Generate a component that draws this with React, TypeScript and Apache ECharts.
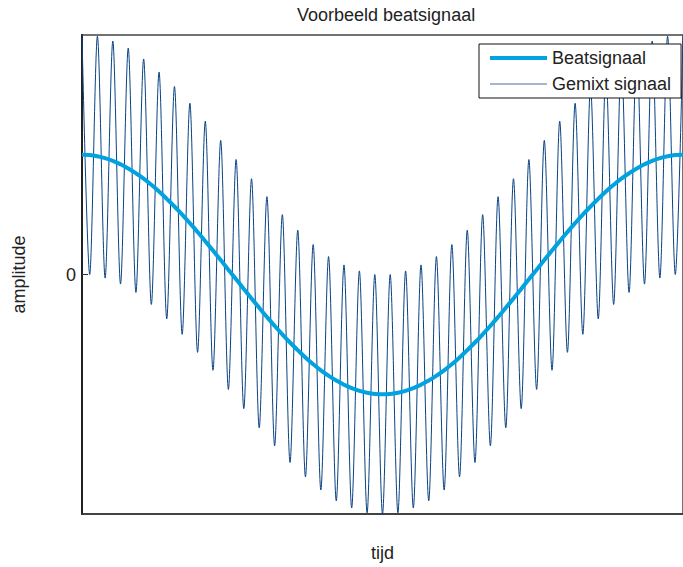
import React, { useEffect, useRef } from "react";
import * as echarts from "echarts";

// Envelope (beat) sampled once per half-period of the mixed signal
const beatValues = [
  1.0, 0.997, 0.987, 0.971, 0.949, 0.92, 0.885, 0.845, 0.8, 0.749, 0.693, 0.632, 0.568, 0.5,
  0.429, 0.355, 0.278, 0.2, 0.121, 0.04, -0.04, -0.121, -0.2, -0.278, -0.355, -0.429, -0.5,
  -0.568, -0.632, -0.693, -0.749, -0.8, -0.845, -0.885, -0.92, -0.949, -0.971, -0.987,
  -0.997, -1.0, -0.997, -0.987, -0.971, -0.949, -0.92, -0.885, -0.845, -0.8, -0.749, -0.693,
  -0.632, -0.568, -0.5, -0.429, -0.355, -0.278, -0.2, -0.121, -0.04, 0.04, 0.121, 0.2, 0.278,
  0.355, 0.429, 0.5, 0.568, 0.632, 0.693, 0.749, 0.8, 0.845, 0.885, 0.92, 0.949, 0.971,
  0.987, 0.997, 1.0,
];

// Successive peaks and troughs of the mixed signal (one value per half-period)
const mixedExtrema = [
  2.0, -0.0, 1.99, -0.03, 1.95, -0.08, 1.89, -0.15, 1.8, -0.25, 1.69, -0.37, 1.57, -0.5,
  1.43, -0.65, 1.28, -0.8, 1.12, -0.96, 0.96, -1.12, 0.8, -1.28, 0.65, -1.43, 0.5, -1.57,
  0.37, -1.69, 0.25, -1.8, 0.15, -1.89, 0.08, -1.95, 0.03, -1.99, 0.0, -2.0, 0.0, -1.99,
  0.03, -1.95, 0.08, -1.89, 0.15, -1.8, 0.25, -1.69, 0.37, -1.57, 0.5, -1.43, 0.65, -1.28,
  0.8, -1.12, 0.96, -0.96, 1.12, -0.8, 1.28, -0.65, 1.43, -0.5, 1.57, -0.37, 1.69, -0.25,
  1.8, -0.15, 1.89, -0.08, 1.95, -0.03, 1.99, -0.0, 2.0,
];

const yTickLabels = [0];
const seriesNames = ["Beatsignaal", "Gemixt signaal"];

const FONT = "'Liberation Sans', Arial, Helvetica, sans-serif";
const BEAT_COLOR = "#00a3e0";
const MIXED_COLOR = "#0a4282";

export default function App() {
  const ref = useRef<HTMLDivElement>(null);

  useEffect(() => {
    if (!ref.current) return;
    const chart = echarts.init(ref.current, undefined, { renderer: "svg" });

    const beatData = beatValues.map((v, i) => [i, v]);
    const mixedData = mixedExtrema.map((v, i) => [i, v]);

    chart.setOption({
      animation: false,
      backgroundColor: "#ffffff",
      textStyle: { fontFamily: FONT },
      title: {
        text: "Voorbeeld beatsignaal",
        left: 292,
        top: 1,
        textStyle: { fontFamily: FONT, fontSize: 18, fontWeight: "normal", color: "#222" },
      },
      legend: {
        orient: "vertical",
        left: 479,
        top: 44,
        padding: [5, 10, 5, 11],
        itemWidth: 57,
        itemHeight: 14,
        itemGap: 8,
        backgroundColor: "#ffffff",
        borderColor: "#111",
        borderWidth: 1,
        textStyle: { fontFamily: FONT, fontSize: 18, color: "#222" },
        data: [
          { name: seriesNames[0], icon: "path://M0,0H57V4H0Z", itemStyle: { color: BEAT_COLOR } },
          { name: seriesNames[1], icon: "path://M0,0H57V1H0Z", itemStyle: { color: "#4a6fa5" } },
        ],
      },
      grid: {
        left: 82,
        top: 35,
        width: 608,
        height: 480,
        show: true,
        borderColor: "#444",
        borderWidth: 1.5,
        backgroundColor: "transparent",
      },
      xAxis: {
        type: "value",
        min: 0,
        max: mixedExtrema.length - 1,
        name: "tijd",
        nameLocation: "middle",
        nameGap: 30,
        nameTextStyle: { fontFamily: FONT, fontSize: 18, color: "#222" },
        axisLine: { show: true, onZero: false, lineStyle: { color: "#333", width: 1.5 } },
        axisTick: { show: false },
        axisLabel: { show: false },
        splitLine: { show: false },
      },
      yAxis: {
        type: "value",
        min: -2,
        max: 2,
        interval: 2,
        name: "amplitude",
        nameLocation: "middle",
        nameGap: 54,
        nameTextStyle: { fontFamily: FONT, fontSize: 18, color: "#222" },
        axisLine: { show: true, onZero: false, lineStyle: { color: "#222", width: 2 } },
        axisTick: {
          show: true,
          inside: true,
          length: 6,
          customValues: yTickLabels,
          lineStyle: { color: "#333", width: 1 },
        },
        axisLabel: {
          show: true,
          margin: 6,
          customValues: yTickLabels,
          fontFamily: FONT,
          fontSize: 18,
          color: "#222",
        },
        splitLine: { show: false },
      },
      series: [
        {
          name: seriesNames[0],
          type: "line",
          data: beatData,
          smooth: true,
          showSymbol: false,
          symbol: "none",
          lineStyle: { color: BEAT_COLOR, width: 4 },
          itemStyle: { color: BEAT_COLOR },
          z: 3,
        },
        {
          name: seriesNames[1],
          type: "line",
          data: mixedData,
          smooth: 0.3,
          showSymbol: false,
          symbol: "none",
          lineStyle: { color: MIXED_COLOR, width: 1 },
          itemStyle: { color: MIXED_COLOR },
          z: 2,
        },
      ],
    });

    return () => chart.dispose();
  }, []);

  return (
    <div
      ref={ref}
      style={{ position: "absolute", left: 0, top: 0, width: 683, height: 567 }}
    />
  );
}
